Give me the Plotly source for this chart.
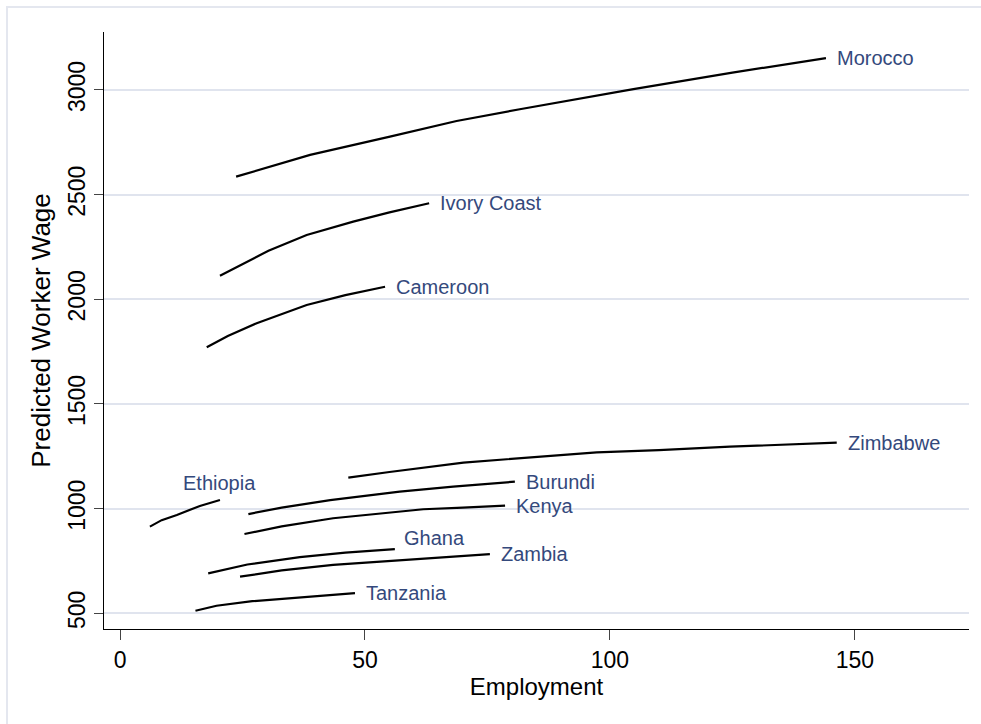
import plotly.graph_objects as go

# Predicted worker wage against employment, one fitted curve per country
countries = ["Morocco", "Ivory Coast", "Cameroon", "Zimbabwe", "Burundi",
             "Kenya", "Ethiopia", "Ghana", "Zambia", "Tanzania"]

morocco_x = [23.7, 38.8, 55.1, 68.7, 81.6, 104.8, 125.0, 144.1]
morocco_y = [2586, 2690, 2777, 2852, 2908, 3004, 3083, 3152]

ivory_x = [20.4, 25.0, 30.3, 38.1, 47.6, 55.0, 63.1]
ivory_y = [2113, 2170, 2232, 2307, 2371, 2415, 2459]

cameroon_x = [17.7, 22.0, 27.9, 38.1, 46.0, 54.1]
cameroon_y = [1771, 1825, 1886, 1973, 2020, 2060]

zimbabwe_x = [46.6, 55.0, 70.1, 85.0, 97.3, 110.0, 124.5, 146.3]
zimbabwe_y = [1148, 1175, 1220, 1245, 1269, 1280, 1296, 1315]

burundi_x = [26.2, 33.0, 42.9, 50.0, 57.1, 68.0, 80.6]
burundi_y = [974, 1005, 1041, 1062, 1081, 1105, 1129]

kenya_x = [25.4, 33.0, 43.5, 52.0, 61.9, 70.0, 78.6]
kenya_y = [879, 915, 954, 975, 997, 1005, 1014]

ethiopia_x = [6.1, 8.5, 11.6, 14.0, 16.3, 20.4]
ethiopia_y = [914, 945, 970, 992, 1013, 1041]

ghana_x = [18.0, 26.0, 36.7, 46.0, 56.1]
ghana_y = [691, 733, 768, 790, 807]

zambia_x = [24.5, 33.0, 43.5, 58.5, 67.0, 75.5]
zambia_y = [675, 705, 731, 755, 770, 783]

tanzania_x = [15.4, 19.7, 27.0, 36.7, 47.96]
tanzania_y = [512, 536, 558, 576, 596]

series_x = [morocco_x, ivory_x, cameroon_x, zimbabwe_x, burundi_x,
            kenya_x, ethiopia_x, ghana_x, zambia_x, tanzania_x]
series_y = [morocco_y, ivory_y, cameroon_y, zimbabwe_y, burundi_y,
            kenya_y, ethiopia_y, ghana_y, zambia_y, tanzania_y]

x_ticks = [0, 50, 100, 150]
y_ticks = [500, 1000, 1500, 2000, 2500, 3000]

FONT = "Liberation Sans, Arial, Helvetica, sans-serif"
LABEL_COLOR = "#34497c"

fig = go.Figure()

for name, xs, ys in zip(countries, series_x, series_y):
    fig.add_trace(go.Scatter(
        x=xs, y=ys, mode="lines", name=name,
        line=dict(color="black", width=2.2),
        showlegend=False, hoverinfo="skip",
    ))

# country name at the end of each curve
for name, xs, ys in zip(countries, series_x, series_y):
    ann = dict(x=xs[-1], y=ys[-1], xref="x", yref="y", text=name,
               showarrow=False, font=dict(family=FONT, size=20, color=LABEL_COLOR),
               xanchor="left", yanchor="middle", xshift=9, yshift=0)
    if name == "Ethiopia":
        ann.update(xanchor="center", xshift=0, yshift=17)
    elif name == "Ghana":
        ann.update(xshift=7, yshift=11)
    fig.add_annotation(**ann)

# light outer frame around the graph region (open to the right and bottom)
fig.add_shape(type="rect", xref="paper", yref="paper",
              x0=(7 - 104) / 865, x1=(1100 - 104) / 865,
              y0=(629 - 800) / 597, y1=(629 - 7) / 597,
              line=dict(color="#e4e7ef", width=2), fillcolor="rgba(0,0,0,0)",
              layer="below")

fig.update_layout(
    width=981, height=724,
    margin=dict(l=104, r=12, t=32, b=95, autoexpand=False),
    paper_bgcolor="white", plot_bgcolor="white",
    font=dict(family=FONT, color="black"),
)

fig.update_xaxes(
    range=[-3.27, 173.3], tickvals=x_ticks, ticktext=[str(v) for v in x_ticks],
    showgrid=False, zeroline=False,
    showline=True, linecolor="black", linewidth=1.3,
    ticks="outside", ticklen=10, tickwidth=1.2, tickcolor="#444",
    tickfont=dict(family=FONT, size=23, color="black"),
    title=dict(text="Employment", font=dict(family=FONT, size=24, color="black"),
               standoff=3),
)

fig.update_yaxes(
    range=[425, 3277], tickvals=y_ticks, ticktext=[str(v) for v in y_ticks],
    tickangle=-90,
    showgrid=True, gridcolor="#e0e4ee", gridwidth=2, zeroline=False,
    showline=True, linecolor="black", linewidth=1.3,
    ticks="outside", ticklen=9, tickwidth=1.2, tickcolor="#444",
    tickfont=dict(family=FONT, size=23, color="black"),
    title=dict(text="Predicted Worker Wage", font=dict(family=FONT, size=26, color="black"),
               standoff=5),
)

fig.write_html("out.html")
